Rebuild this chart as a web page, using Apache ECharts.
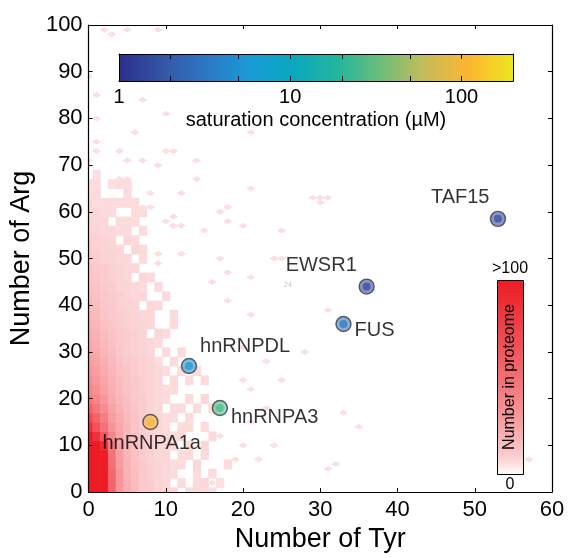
<!DOCTYPE html>
<html>
<head>
<meta charset="utf-8">
<script src="https://cdn.jsdelivr.net/npm/echarts@6/dist/echarts.min.js"></script>
<style>html,body{margin:0;padding:0;background:#fff}#c{width:568px;height:558px}</style>
</head>
<body>
<div id="c"></div>
<script>
// ---------------- data ----------------
const proteins = ['TAF15', 'EWSR1', 'FUS', 'hnRNPDL', 'hnRNPA3', 'hnRNPA1a'];
const tyrCounts = [53, 36, 33, 13, 17, 8];
const argCounts = [58.5, 44, 36, 27, 18, 15];
const csatUM = [1.5, 1.4, 3, 5, 25, 100];

// saturation-concentration colour bar (log scale)
const cbarRange = [1, 200];
const cbarLabelValues = [1, 10, 100];
const cbarTickValues = [2, 5, 10, 20, 50, 100];
const parulaStops = ['#2c2f8c', '#3455a5', '#2d78c3', '#199bd7', '#0aa8be',
                     '#23b69e', '#6ebe78', '#c8bc5a', '#fcb630', '#ede61e'];

// proteome density (number of proteins), rows = Arg bins (centre, width 2), columns = Tyr 0..19
const argRowCenters = [0, 2, 4, 6, 8, 10, 12, 14, 16, 18, 20, 22, 24, 26, 28, 30, 32, 34,
                       36, 38, 40, 42, 44, 46, 48, 50, 52, 54, 56, 58, 60, 62, 64, 66, 68];
const densityRows = [
  [130,130,110,55,30,20,15,11,10,8,7,7,0,6,7,6,5,0,0,0],
  [130,130,110,56,31,20,15,11,10,8,7,0,6,0,6,7,0,5,0,0],
  [130,130,108,54,30,19,15,11,9,8,7,6,0,0,6,0,6,0,0,0],
  [130,130,105,50,28,19,14,11,9,8,7,6,6,0,7,0,0,0,6,0],
  [130,130,100,48,27,18,14,10,9,7,7,0,6,6,0,6,0,0,0,0],
  [125,118,90,44,26,18,14,10,9,7,7,6,0,6,0,7,0,0,0,0],
  [105,85,62,38,25,17,14,10,9,7,7,6,6,0,0,0,6,0,0,0],
  [85,65,48,32,23,17,13,10,9,7,6,0,6,6,0,6,0,0,0,0],
  [70,55,42,28,21,16,13,10,8,7,6,6,0,6,0,0,0,0,0,0],
  [55,45,35,25,19,15,12,10,8,7,0,6,6,0,6,0,6,0,0,0],
  [45,38,30,22,17,14,11,10,8,7,6,0,0,6,0,7,0,0,0,0],
  [38,33,26,20,16,13,11,9,8,7,6,6,0,0,0,0,0,0,0,0],
  [34,30,24,19,15,12,11,9,8,7,0,6,0,6,0,6,0,0,0,0],
  [31,27,22,18,14,12,10,9,8,7,6,0,6,0,6,0,0,0,0,0],
  [28,25,20,16,13,11,10,9,8,6,0,6,0,0,0,0,0,0,0,0],
  [25,22,18,15,12,10,9,8,7,0,6,0,6,0,0,0,0,0,0,0],
  [23,20,16,14,11,10,9,8,7,6,0,0,0,0,0,0,0,0,0,0],
  [21,19,15,13,11,10,9,8,0,7,6,0,0,0,0,0,0,0,0,0],
  [19,17,14,12,10,9,8,8,7,0,0,6,0,0,0,0,0,0,0,0],
  [18,16,13,11,10,9,8,7,7,0,0,6,0,0,0,0,0,0,0,0],
  [16,15,12,11,9,8,8,0,7,6,0,0,0,0,0,0,0,0,0,0],
  [15,14,12,10,9,8,7,7,0,0,6,0,0,0,0,0,0,0,0,0],
  [14,13,11,10,8,8,7,6,0,6,0,0,0,0,0,0,0,0,0,0],
  [13,12,10,9,8,7,0,7,6,0,0,0,0,0,0,0,0,0,0,0],
  [12,11,10,9,8,7,7,0,0,0,0,0,0,0,0,0,0,0,0,0],
  [11,10,9,8,7,7,0,6,0,0,0,0,0,0,0,0,0,0,0,0],
  [10,9,8,8,7,0,7,6,0,0,0,0,0,0,0,0,0,0,0,0],
  [9,9,8,7,0,7,6,0,0,0,0,0,0,0,0,0,0,0,0,0],
  [8,8,7,7,6,6,0,6,0,0,0,0,0,0,0,0,0,0,0,0],
  [8,7,7,0,6,6,6,0,0,0,0,0,0,0,0,0,0,0,0,0],
  [7,7,6,6,0,0,6,6,0,0,0,0,0,0,0,0,0,0,0,0],
  [7,6,6,6,6,6,6,0,0,0,0,0,0,0,0,0,0,0,0,0],
  [6,6,0,0,0,6,0,0,0,0,0,0,0,0,0,0,0,0,0,0],
  [6,6,0,5,6,6,0,0,0,0,0,0,0,0,0,0,0,0,0,0],
  [0,5,0,0,0,0,0,0,0,0,0,0,0,0,0,0,0,0,0,0]
];
// isolated cells: [Tyr, Arg, count]
const speckCells = [
  [1,80,5],[10,81,5],[6,77,5],[1,75,5],[10,73,5],[11,73,5],[1,73,5],[4,73,5],
  [5,71,5],[7,71,5],[9,70,5],[14,71,5],[0,71,5],[14,67,5],[4,67,5],[5,67,5],
  [21,65,5],[8,64,5],[12,64,5],[8,61,5],[7,61,5],[18,61,5],[17,60,5],[11,59,5],
  [10,58,5],[11,57,5],[12,57,5],[15,56,5],[18,58,5],[20,57,5],[9,51,5],[12,51,5],
  [17,50,5],[24,50,5],[25,50,5],[18,47,5],[21,46,5],[9,49,5],[21,77,5],
  [2,99,5],[3,98,5],[5,99,5],[9,99,5],[0,89,5],[1,85,5],[7,84,5],
  [29,63,5],[30,63,5],[31,63,5],[30,62,5],[25,56,5],[31,39,5],[28,30,5],[25,24,5],
  [33,17,5],[35,14,5],[31,5,5],[32,6,5],[57,7,5],[20,24,5],[21,22,5],[23,18,5],
  [17,12,5],[20,10,5],[19,7,5],[14,0,5],[15,0,5],[20,31,5],[23,28,5],[21,38,5],
  [18,41,5],[16,45,5],[21,15,5],[22,7,5],[16,2,5],[24,10,5]
];

// ---------------- styles ----------------
const FONT = '"Liberation Sans", Arial, Helvetica, sans-serif';
const argBinWidth = 2;
// label offsets [dx, dy] from the marker centre (styling only)
const labelOffsets = [[-67, -21], [-81, -21], [11, 7], [11, -19], [11, 9], [-48, 21]];

// white -> red colour ramp for the proteome density (gamma-shaped, styling only)
const densityColors = [];
for (let k = 0; k <= 20; k++) {
  const t = Math.pow(k / 20, 0.65);
  const r = Math.round(255 - 18 * t), g = Math.round(255 - 227 * t), b = Math.round(255 - 219 * t);
  densityColors.push('rgb(' + r + ',' + g + ',' + b + ')');
}

const densityData = [];
argRowCenters.forEach((arg, r) => {
  densityRows[r].forEach((count, tyr) => {
    if (count > 0) densityData.push([tyr, arg, count]);
  });
});

const pointData = proteins.map((name, i) => ({
  name: name,
  value: [tyrCounts[i], argCounts[i], Math.log10(csatUM[i])],
  label: { offset: labelOffsets[i] }
}));

const chart = echarts.init(document.getElementById('c'), null, { renderer: 'canvas' });

function gridRect(params) {
  const cs = params.coordSys;
  return { x: cs.x, y: cs.y, width: cs.width, height: cs.height };
}

const mainAxisCommon = {
  axisLine: { onZero: false, lineStyle: { color: '#000', width: 1.2 } },
  axisTick: { inside: true, length: 4, lineStyle: { color: '#000', width: 1 } },
  splitLine: { show: false },
  z: 10
};

const option = {
  animation: false,
  backgroundColor: '#fff',
  textStyle: { fontFamily: FONT },
  grid: [
    { left: 78, right: 16, top: 25, bottom: 61 },
    { left: 119, top: 54, width: 394, height: 27, z: 20 }
  ],
  xAxis: [
    Object.assign({}, mainAxisCommon, {
      gridIndex: 0, type: 'value', min: 0, max: 60, interval: 10, position: 'bottom',
      axisLabel: { fontSize: 22, color: '#000', margin: 7, fontFamily: FONT },
      name: 'Number of Tyr', nameLocation: 'middle', nameGap: 33,
      nameTextStyle: { fontSize: 27, color: '#000', fontFamily: FONT }
    }),
    Object.assign({}, mainAxisCommon, {
      gridIndex: 0, type: 'value', min: 0, max: 60, interval: 10, position: 'top',
      axisLabel: { show: false }
    }),
    {
      gridIndex: 1, type: 'value', min: 0, max: Math.log10(cbarRange[1]), position: 'bottom', z: 25,
      axisLine: { onZero: false, lineStyle: { color: '#000', width: 1 } },
      axisTick: { inside: true, length: 5, customValues: cbarTickValues.map(v => Math.log10(v)), lineStyle: { color: '#000' } },
      axisLabel: {
        customValues: cbarLabelValues.map(v => Math.log10(v)),
        formatter: v => String(Math.round(Math.pow(10, v))),
        fontSize: 20, color: '#000', margin: 6, fontFamily: FONT
      },
      splitLine: { show: false },
      name: 'saturation concentration (µM)', nameLocation: 'middle', nameGap: 29,
      nameTextStyle: { fontSize: 20, color: '#000', fontFamily: FONT }
    },
    {
      gridIndex: 1, type: 'value', min: 0, max: Math.log10(cbarRange[1]), position: 'top', z: 25,
      axisLine: { onZero: false, lineStyle: { color: '#000', width: 1 } },
      axisTick: { inside: true, length: 5, customValues: cbarTickValues.map(v => Math.log10(v)), lineStyle: { color: '#000' } },
      axisLabel: { show: false },
      splitLine: { show: false }
    }
  ],
  yAxis: [
    Object.assign({}, mainAxisCommon, {
      gridIndex: 0, type: 'value', min: 0, max: 100, interval: 10, position: 'left',
      axisLabel: { fontSize: 22, color: '#000', margin: 6, fontFamily: FONT },
      name: 'Number of Arg', nameLocation: 'middle', nameGap: 37,
      nameTextStyle: { fontSize: 27, color: '#000', fontFamily: FONT }
    }),
    Object.assign({}, mainAxisCommon, {
      gridIndex: 0, type: 'value', min: 0, max: 100, interval: 10, position: 'right',
      axisLabel: { show: false }
    }),
    {
      gridIndex: 1, type: 'value', min: 0, max: 1, position: 'left', z: 25,
      axisLine: { onZero: false, lineStyle: { color: '#000', width: 1 } },
      axisTick: { show: false }, axisLabel: { show: false }, splitLine: { show: false }
    },
    {
      gridIndex: 1, type: 'value', min: 0, max: 1, position: 'right', z: 25,
      axisLine: { onZero: false, lineStyle: { color: '#000', width: 1 } },
      axisTick: { show: false }, axisLabel: { show: false }, splitLine: { show: false }
    }
  ],
  visualMap: [
    {
      type: 'continuous', show: true, seriesIndex: [0, 1], dimension: 2,
      min: 0, max: 100, calculable: false, hoverLink: false,
      inRange: { color: densityColors },
      orient: 'vertical', itemWidth: 26, itemHeight: 194,
      text: ['>100', '0'], textGap: 3, padding: 0,
      left: 492, top: 261,
      textStyle: { fontSize: 16, color: '#000', fontFamily: FONT }
    },
    {
      type: 'continuous', show: false, seriesIndex: [2], dimension: 2,
      min: 0, max: Math.log10(cbarRange[1]),
      inRange: { color: parulaStops, colorAlpha: [0.72, 0.72] }
    },
    {
      type: 'continuous', show: false, seriesIndex: [3], dimension: 2,
      min: 0, max: Math.log10(cbarRange[1]),
      inRange: { color: parulaStops, colorAlpha: [0.85, 0.85] }
    }
  ],
  series: [
    {
      type: 'custom', name: 'density', xAxisIndex: 0, yAxisIndex: 0, z: 1, silent: true,
      clip: true,
      data: densityData,
      renderItem: function (params, api) {
        const tyr = api.value(0), arg = api.value(1);
        const a = api.coord([tyr - 0.5, arg + argBinWidth / 2]);
        const b = api.coord([tyr + 0.5, arg - argBinWidth / 2]);
        const shape = echarts.graphic.clipRectByRect(
          { x: a[0], y: a[1], width: b[0] - a[0] + 0.6, height: b[1] - a[1] + 0.6 },
          gridRect(params));
        if (!shape) return;
        return { type: 'rect', shape: shape, style: { fill: api.visual('color') } };
      }
    },
    {
      type: 'custom', name: 'specks', xAxisIndex: 0, yAxisIndex: 0, z: 1, silent: true,
      clip: true,
      data: speckCells,
      renderItem: function (params, api) {
        const c = api.coord([api.value(0), api.value(1)]);
        const s = api.size([1, 1]);
        const w = s[0] * 0.6, h = s[1] * 0.65;
        return {
          type: 'polygon',
          shape: { points: [[c[0] - w, c[1]], [c[0], c[1] - h], [c[0] + w, c[1]], [c[0], c[1] + h]] },
          style: { fill: api.visual('color') }
        };
      }
    },
    {
      type: 'scatter', name: 'proteins', xAxisIndex: 0, yAxisIndex: 0, z: 5,
      symbol: 'circle', symbolSize: 15,
      itemStyle: { borderColor: '#3a3a3a', borderWidth: 1.4 },
      label: {
        show: true, position: 'inside', align: 'left', verticalAlign: 'middle',
        formatter: '{b}', fontSize: 20, color: '#000', fontFamily: FONT
      },
      data: pointData
    },
    {
      type: 'scatter', name: 'proteinsCore', xAxisIndex: 0, yAxisIndex: 0, z: 6, silent: true,
      symbol: 'circle', symbolSize: 8,
      data: pointData.map(p => ({ name: p.name, value: p.value }))
    },
    {
      type: 'custom', name: 'cbar', xAxisIndex: 2, yAxisIndex: 2, z: 20, silent: true,
      data: [[Math.log10(cbarRange[0]), Math.log10(cbarRange[1])]],
      renderItem: function (params, api) {
        const a = api.coord([api.value(0), 1]);
        const b = api.coord([api.value(1), 0]);
        const n = parulaStops.length;
        return {
          type: 'rect',
          shape: { x: a[0], y: a[1], width: b[0] - a[0], height: b[1] - a[1] },
          style: {
            fill: new echarts.graphic.LinearGradient(0, 0, 1, 0,
              parulaStops.map((c, i) => ({ offset: i / (n - 1), color: c })))
          }
        };
      }
    }
  ],
  graphic: [
    {
      type: 'rect', x: 497.5, y: 280.5, z: 100, silent: true,
      shape: { x: 0, y: 0, width: 26, height: 194 },
      style: { fill: 'none', stroke: '#000', lineWidth: 1 }
    },
    {
      type: 'text', x: 510, y: 377, rotation: Math.PI / 2, z: 100, silent: true,
      style: { text: 'Number in proteome', font: '16px ' + FONT, fill: '#000', align: 'center', verticalAlign: 'middle' }
    },
    {
      type: 'text', x: 284, y: 282, z: 100, silent: true,
      style: { text: '24', font: '7px ' + FONT, fill: '#c8c8c8' }
    }
  ]
};

chart.setOption(option);
</script>
</body>
</html>
